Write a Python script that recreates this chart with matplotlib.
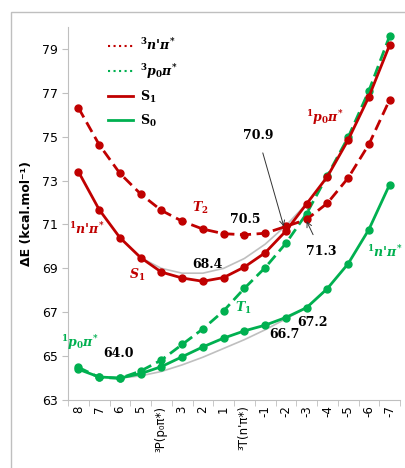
import numpy as np
import matplotlib
matplotlib.use("Agg")
import matplotlib.pyplot as plt
from matplotlib.lines import Line2D
from matplotlib.patches import Rectangle

# bold serif for every math text (annotations are all bold in the original)
plt.rcParams['mathtext.fontset'] = 'custom'
plt.rcParams['mathtext.rm'] = 'DejaVu Serif:bold'
plt.rcParams['mathtext.it'] = 'DejaVu Serif:italic:bold'
plt.rcParams['mathtext.bf'] = 'DejaVu Serif:bold'

categories = ['8', '7', '6', '5', '³P(p₀π*)', '3', '2', '1', '³T(n\'π*)',
              '-1', '-2', '-3', '-4', '-5', '-6', '-7']

# energies in kcal/mol
T2 = [76.32, 74.64, 73.33, 72.39, 71.64, 71.15, 70.79, 70.58,
      70.53, 70.60, 70.91, 71.23, 71.97, 73.12, 74.65, 76.68]
S1 = [73.41, 71.68, 70.40, 69.49, 68.83, 68.56, 68.41, 68.58,
      69.06, 69.71, 70.70, 71.94, 73.18, 74.85, 76.82, 79.18]
T1 = [64.49, 64.03, 63.99, 64.32, 64.82, 65.53, 66.24, 67.06,
      68.09, 69.03, 70.14, 71.50, 73.23, 74.97, 77.09, 79.59]
S0 = [64.40, 64.05, 64.00, 64.20, 64.52, 64.97, 65.42, 65.82,
      66.15, 66.41, 66.76, 67.21, 68.08, 69.21, 70.77, 72.82]

# thin gray fitted curves
fit_S1_idx = [3, 4, 5, 6, 7, 8, 9, 10, 11]
fit_S1 = [69.49, 69.00, 68.78, 68.78, 69.00, 69.45, 70.10, 70.95, 71.95]
fit_S0_idx = [2, 3, 4, 5, 6, 7, 8, 9, 10, 11, 12]
fit_S0 = [64.00, 64.10, 64.30, 64.60, 64.95, 65.35, 65.75, 66.20, 66.70, 67.20, 68.05]

red = '#C00000'
green = '#00B050'
gray = '#BFBFBF'

fig = plt.figure(figsize=(4.05, 4.68), dpi=100)
fig.patches.append(Rectangle((11 / 405, -0.1), 1.2, 1.1 - 12 / 468,
                             transform=fig.transFigure, fill=False,
                             edgecolor=gray, lw=1.0))
ax = fig.add_axes([68 / 405, 68 / 468, 332 / 405, 373 / 468])

x = np.arange(len(categories))

ax.plot(fit_S1_idx, fit_S1, color=gray, lw=1.2, zorder=1)
ax.plot(fit_S0_idx, fit_S0, color=gray, lw=1.2, zorder=1)

ax.plot(x, T2, color=red, lw=2.0, ls=(0, (4, 2)), marker='o', ms=5, zorder=3)
ax.plot(x, S1, color=red, lw=2.0, marker='o', ms=5, zorder=3)
ax.plot(x, T1, color=green, lw=2.0, ls=(0, (4, 2)), marker='o', ms=5, zorder=2)
ax.plot(x, S0, color=green, lw=2.0, marker='o', ms=5, zorder=2)

ax.set_xlim(-0.5, len(categories) - 0.5)
ax.set_ylim(63, 80)
ax.set_yticks(np.arange(63, 80, 2))
ax.set_xticks(x)
ax.set_xticklabels(categories, rotation=90, fontsize=8.5)
ax.set_xticks(np.arange(-0.5, len(categories), 1), minor=True)
ax.tick_params(axis='x', which='major', length=0, pad=4)
ax.tick_params(axis='x', which='minor', length=4, color=gray)
ax.tick_params(axis='y', length=4, color=gray, labelsize=9)
for s in ['top', 'right']:
    ax.spines[s].set_visible(False)
for s in ['left', 'bottom']:
    ax.spines[s].set_color(gray)

ax.set_ylabel('ΔE (kcal.mol⁻¹)', fontsize=9, fontweight='bold', labelpad=6)

num_kw = dict(fontsize=9, fontweight='bold', family='DejaVu Serif',
              ha='center', va='center')
ax.text(8.02, 71.23, '70.5', **num_kw)
ax.text(6.24, 69.18, '68.4', **num_kw)
ax.text(1.95, 65.14, '64.0', **num_kw)
ax.text(11.3, 66.55, '67.2', **num_kw)
ax.text(9.95, 66.0, '66.7', **num_kw)
ax.annotate('70.9', xy=(9.9, 70.91), xytext=(8.65, 75.05),
            arrowprops=dict(arrowstyle='->', color='#333333', lw=0.7,
                            shrinkA=6, shrinkB=0), **num_kw)
ax.annotate('71.3', xy=(11.0, 71.15), xytext=(11.7, 69.77),
            arrowprops=dict(arrowstyle='->', color='#333333', lw=0.7,
                            shrinkA=6, shrinkB=0), **num_kw)

lab_kw = dict(fontsize=9, ha='center', va='center', fontweight='bold',
              family='DejaVu Serif')
ax.text(5.86, 71.77, r'$T_2$', color=red, **lab_kw)
ax.text(2.82, 68.68, r'$S_1$', color=red, **lab_kw)
ax.text(0.4, 70.77, r"$^{1}n$'$\pi^{*}$", color=red, **lab_kw)
ax.text(11.88, 75.86, r'$^{1}p_{0}\pi^{*}$', color=red, **lab_kw)
ax.text(7.93, 67.18, r'$T_1$', color=green, **lab_kw)
ax.text(14.77, 69.73, r"$^{1}n$'$\pi^{*}$", color=green, **lab_kw)
ax.text(0.07, 65.64, r'$^{1}p_{0}\pi^{*}$', color=green, **lab_kw)

handles = [Line2D([], [], color=red, lw=1.5, ls=':'),
           Line2D([], [], color=green, lw=1.5, ls=':'),
           Line2D([], [], color=red, lw=2.0),
           Line2D([], [], color=green, lw=2.0)]
labels = [r"$^{3}n$'$\pi^{*}$", r'$^{3}p_{0}\pi^{*}$', r'S$_{1}$', r'S$_{0}$']
leg = ax.legend(handles, labels, loc='upper left', bbox_to_anchor=(0.105, 0.985),
                frameon=False, fontsize=9, handlelength=2.0, handletextpad=0.6,
                labelspacing=0.65, borderaxespad=0)
for t in leg.get_texts():
    t.set_fontweight('bold')
    t.set_family('DejaVu Serif')

fig.savefig('out.png', dpi=100)
